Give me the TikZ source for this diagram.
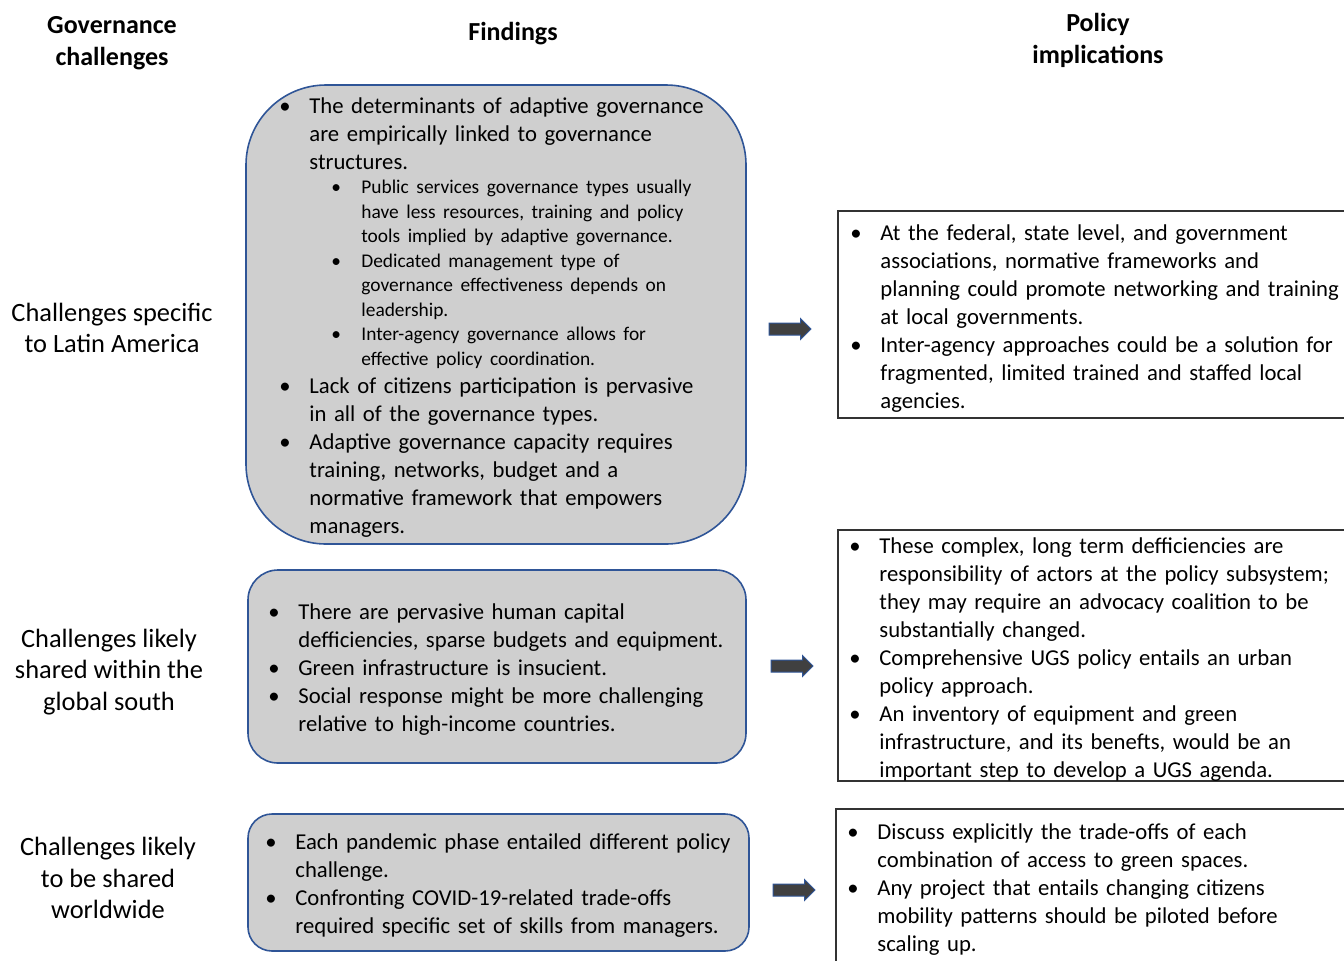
\documentclass[tikz,border=0pt]{standalone}
\usepackage{fontspec}
\setmainfont{Carlito}
\usetikzlibrary{shapes.arrows}

\definecolor{boxgray}{RGB}{207,207,207}
\definecolor{boxblue}{RGB}{47,85,151}
\definecolor{arrowgray}{RGB}{64,64,64}

\newcommand{\mainsize}{\fontsize{11.35}{14}\selectfont}
\newcommand{\subsize}{\fontsize{9.7}{12.25}\selectfont}
\newcommand{\itm}[1]{\par\hangindent=15pt\hangafter=1\noindent\makebox[15pt][l]{\textbullet}#1\par}
\newcommand{\sitm}[1]{\par\hangindent=41pt\hangafter=1\noindent\hspace*{26pt}\makebox[15pt][l]{\textbullet}#1\par}

\tikzset{
	finding/.style={draw=boxblue, fill=boxgray, line width=0.8pt},
	policy/.style={draw=black!80, line width=0.6pt},
	bulletlist/.style={anchor=north west, inner sep=0pt, text width=262pt,
		execute at begin node={\raggedright\hyphenpenalty=10000\exhyphenpenalty=10000}, font=\mainsize},
	header/.style={align=center, font=\fontsize{13}{16}\selectfont\bfseries},
	challenge/.style={align=center, font=\fontsize{13.2}{15.75}\selectfont},
	blockarrow/.style={single arrow, draw=boxblue, fill=arrowgray, line width=0.5pt,
		minimum height=21pt, minimum width=10pt, inner sep=2.75pt,
		single arrow head extend=2.25pt}
}

\begin{document}
\begin{tikzpicture}[x=0.5pt, y=-0.5pt]
	
	\useasboundingbox (0,0) rectangle (1344,960);
	
	% column headers
	\node [header] (hgov)    at ( 112, 43) {Governance\\challenges};
	\node [header] (hfind)   at ( 513, 34) {Findings};
	\node [header] (hpolicy) at (1098, 40) {Policy\\implications};
	
	% challenge labels
	\node [challenge] (clat)    at (112, 328) {Challenges specific\\to Latin America};
	\node [challenge] (csouth)  at (109, 672) {Challenges likely\\shared within the\\global south};
	\node [challenge] (cworld)  at (108, 878) {Challenges likely\\to be shared\\worldwide};
	
	% findings boxes
	\draw [finding, rounded corners=40pt] (246, 85)  rectangle (746, 544);
	\draw [finding, rounded corners=15pt] (248, 570) rectangle (746, 763);
	\draw [finding, rounded corners=12pt] (248, 814) rectangle (749, 951);
	
	\node [bulletlist] (flat) at (279, 85) {%
		\itm{The determinants of adaptive governance\newline are empirically linked to governance\newline structures.}
		{\subsize
		\sitm{Public services governance types usually\newline have less resources, training and policy\newline tools implied by adaptive governance.}
		\sitm{Dedicated management type of\newline governance effectiveness depends on\newline leadership.}
		\sitm{Inter-agency governance allows for\newline effective policy coordination.}}
		\itm{Lack of citizens participation is pervasive\newline in all of the governance types.}
		\itm{Adaptive governance capacity requires\newline training, networks, budget and a\newline normative framework that empowers\newline managers.}};
	
	\node [bulletlist] (fsouth) at (268, 591) {%
		\itm{There are pervasive human capital\newline defficiencies, sparse budgets and equipment.}
		\itm{Green infrastructure is insucient.}
		\itm{Social response might be more challenging\newline relative to high-income countries.}};
	
	\node [bulletlist] (fworld) at (265, 821) {%
		\itm{Each pandemic phase entailed different policy\newline challenge.}
		\itm{Confronting COVID-19-related trade-offs\newline required specific set of skills from managers.}};
	
	% arrows
	\node [blockarrow] (alat)   at (787, 329) {};
	\node [blockarrow] (asouth) at (789, 666) {};
	\node [blockarrow] (aworld) at (791, 890) {};
	
	% policy boxes
	\draw [policy] (1360, 211) -- (838, 211) -- (838, 418) -- (1360, 418);
	\draw [policy] (1360, 530) -- (838, 530) -- (838, 781) -- (1360, 781);
	\draw [policy] (1360, 809) -- (836, 809) -- (836, 970);
	
	\node [bulletlist] (plat) at (850, 212) {%
		\itm{At the federal, state level, and government\newline associations, normative frameworks and\newline planning could promote networking and training\newline at local governments.}
		\itm{Inter-agency approaches could be a solution for\newline fragmented, limited trained and staffed local\newline agencies.}};
	
	\node [bulletlist] (psouth) at (849, 525) {%
		\itm{These complex, long term defficiencies are\newline responsibility of actors at the policy subsystem;\newline they may require an advocacy coalition to be\newline substantially changed.}
		\itm{Comprehensive UGS policy entails an urban\newline policy approach.}
		\itm{An inventory of equipment and green\newline infrastructure, and its benefts, would be an\newline important step to develop a UGS agenda.}};
	
	\node [bulletlist] (pworld) at (847, 811) {%
		\itm{Discuss explicitly the trade-offs of each\newline combination of access to green spaces.}
		\itm{Any project that entails changing citizens\newline mobility patterns should be piloted before\newline scaling up.}};
	
\end{tikzpicture}
\end{document}
